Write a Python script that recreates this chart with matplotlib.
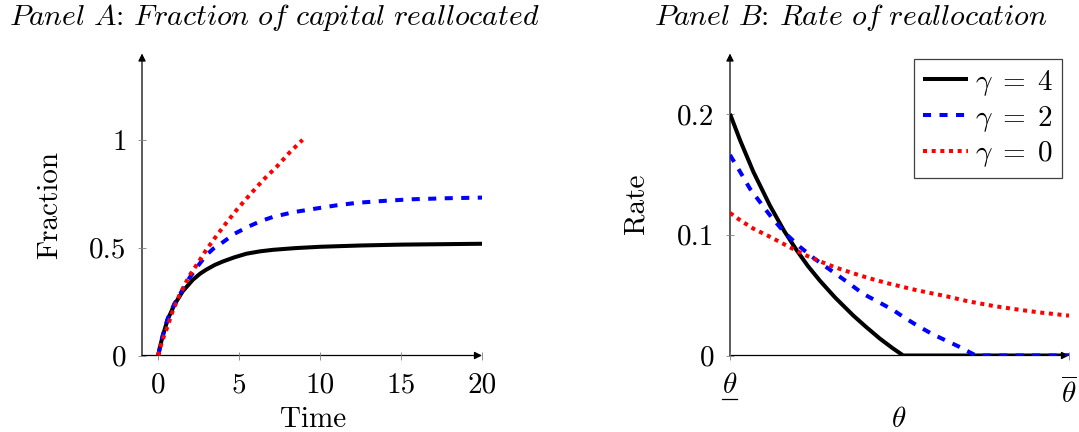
import matplotlib
matplotlib.use("Agg")
import matplotlib.pyplot as plt
from matplotlib.lines import Line2D
from matplotlib.transforms import offset_copy

plt.rcParams['font.family'] = 'cmr10'
plt.rcParams['mathtext.fontset'] = 'cm'
plt.rcParams['axes.formatter.use_mathtext'] = True
plt.rcParams['axes.unicode_minus'] = False

# ---------------- data ----------------
# Panel A: fraction of capital reallocated vs time
time_g4 = [0, 0.12, 0.27, 0.58, 1.0, 1.51, 2.14, 2.6, 2.97, 3.5, 4.0, 4.7, 5.46, 6.3,
           7.1, 8.5, 10, 12.5, 15, 17.5, 20]
frac_g4 = [0, 0.043, 0.088, 0.166, 0.235, 0.297, 0.351, 0.38, 0.398, 0.42, 0.436, 0.455,
           0.472, 0.483, 0.49, 0.498, 0.504, 0.51, 0.514, 0.516, 0.518]

time_g2 = [0, 0.12, 0.27, 0.58, 1.0, 1.51, 1.93, 2.45, 2.97, 3.4, 3.9, 4.73, 5.5, 6.3,
           7.11, 8.4, 9.81, 11, 12.3, 14, 15.6, 17.8, 20]
frac_g2 = [0, 0.042, 0.09, 0.17, 0.24, 0.305, 0.36, 0.415, 0.465, 0.495, 0.52, 0.565,
           0.595, 0.622, 0.643, 0.665, 0.682, 0.696, 0.708, 0.717, 0.724, 0.729, 0.732]

time_g0 = [0, 0.12, 0.27, 0.58, 0.89, 1.31, 1.93, 2.55, 2.97, 3.6, 4.21, 4.9, 5.66, 6.5,
           7.32, 8.1, 8.92]
frac_g0 = [0, 0.035, 0.073, 0.135, 0.205, 0.28, 0.37, 0.44, 0.49, 0.555, 0.615, 0.68,
           0.745, 0.815, 0.875, 0.94, 1.0]

# Panel B: rate of reallocation vs theta (0 = theta_low, 1 = theta_high)
theta_g4 = [0, 0.03, 0.069, 0.118, 0.16, 0.197, 0.23, 0.265, 0.31, 0.364, 0.40, 0.442,
            0.48, 0.511, 1.0]
rate_g4 = [0.2, 0.178, 0.152, 0.124, 0.103, 0.087, 0.074, 0.062, 0.048, 0.033, 0.024,
           0.014, 0.006, 0.0, 0.0]

theta_g2 = [0, 0.03, 0.059, 0.118, 0.16, 0.206, 0.25, 0.295, 0.345, 0.393, 0.44, 0.482,
            0.511, 0.551, 0.595, 0.64, 0.678, 0.725, 1.0]
rate_g2 = [0.166, 0.152, 0.138, 0.116, 0.102, 0.090, 0.080, 0.071, 0.061, 0.051, 0.044,
           0.0375, 0.032, 0.025, 0.018, 0.012, 0.007, 0.0, 0.0]

theta_g0 = [0, 0.03, 0.069, 0.12, 0.167, 0.215, 0.265, 0.31, 0.364, 0.41, 0.462, 0.551,
            0.639, 0.7, 0.777, 0.85, 0.914, 1.0]
rate_g0 = [0.118, 0.112, 0.105, 0.098, 0.091, 0.084, 0.078, 0.073, 0.068, 0.064, 0.060,
           0.054, 0.049, 0.045, 0.041, 0.038, 0.0356, 0.033]

legend_labels = [r'$\gamma\;=\;4$', r'$\gamma\;=\;2$', r'$\gamma\;=\;0$']
xticks_A = [0, 5, 10, 15, 20]
yticks_A = [0, 0.5, 1]
yticks_B = [0, 0.1, 0.2]
xticks_B = [0, 1]
xticklabels_B = [r'$\theta$', r'$\overline{\theta}$']

# ---------------- figure ----------------
W, H = 1079, 432
fig = plt.figure(figsize=(W / 100, H / 100), dpi=100)

def px(x0, y0, x1, y1):
    return [x0 / W, 1 - y1 / H, (x1 - x0) / W, (y1 - y0) / H]

axA = fig.add_axes(px(142, 53.5, 482, 355.5))
axB = fig.add_axes(px(730, 53.5, 1069, 355.5))

FS = 21
LW = 2.9
sty_black = dict(color='black', lw=LW, solid_capstyle='butt', solid_joinstyle='round')
sty_blue = dict(color='#0000ff', lw=LW, linestyle=(0, (2.0, 2.1)), dash_capstyle='butt')
sty_red = dict(color='#ff0000', lw=LW, linestyle=(0, (1.0, 1.15)), dash_capstyle='butt')

axA.plot(time_g4, frac_g4, **sty_black)
axA.plot(time_g2, frac_g2, **sty_blue)
axA.plot(time_g0, frac_g0, **sty_red)
axA.set_xlim(-1, 20)
axA.set_ylim(0, 1.4)
axA.set_xticks(xticks_A)
axA.set_xticklabels([str(v) for v in xticks_A])
axA.set_yticks(yticks_A)
axA.set_yticklabels(['0', '0.5', '1'])

lB1, = axB.plot(theta_g4, rate_g4, **sty_black)
lB2, = axB.plot(theta_g2, rate_g2, **sty_blue)
lB3, = axB.plot(theta_g0, rate_g0, **sty_red)
axB.set_xlim(0, 1)
axB.set_ylim(0, 0.25)
axB.set_xticks(xticks_B)
axB.set_xticklabels(['', ''])
axB.set_yticks(yticks_B)
axB.set_yticklabels(['0', '0.1', '0.2'])

for ax in (axA, axB):
    for s in ax.spines.values():
        s.set_visible(False)
    ax.tick_params(direction='inout', length=6, width=0.6, color='#808080',
                   labelsize=FS)
    ax.tick_params(axis='x', pad=9)
    ax.tick_params(axis='y', pad=8)
    ax.patch.set_alpha(0)
    arrow = dict(arrowstyle='-|>', lw=0.9, color='black', mutation_scale=11,
                 shrinkA=0, shrinkB=0)
    ax.annotate('', xy=(1, 0), xytext=(0, 0), xycoords='axes fraction',
                textcoords='axes fraction', arrowprops=arrow, zorder=0.5)
    ax.annotate('', xy=(0, 1), xytext=(0, 0), xycoords='axes fraction',
                textcoords='axes fraction', arrowprops=arrow, zorder=0.5)

# theta tick labels of panel B (theta_low underlined, theta_high overlined)
xtr = axB.get_xaxis_transform()
axB.text(xticks_B[0], 0, xticklabels_B[0], fontsize=FS, ha='center', va='top',
         transform=offset_copy(xtr, fig=fig, y=-17, units='dots'))
axB.text(xticks_B[1], 0, xticklabels_B[1], fontsize=FS, ha='center', va='top',
         transform=offset_copy(xtr, fig=fig, y=-22, units='dots'))
axB.add_line(Line2D([xticks_B[0] - 0.023, xticks_B[0] + 0.022], [0, 0], color='black',
                    lw=0.9, clip_on=False,
                    transform=offset_copy(xtr, fig=fig, y=-43, units='dots')))

leg = axB.legend([lB1, lB2, lB3], legend_labels, loc='upper right',
                 bbox_to_anchor=(0.979, 0.982), borderaxespad=0, fontsize=FS,
                 handlelength=1.55, handletextpad=0.25, labelspacing=0.2,
                 borderpad=0.3, fancybox=False, framealpha=1,
                 edgecolor='#404040')
leg.get_frame().set_linewidth(0.9)

# titles and axis labels
title_kw = dict(fontsize=FS + 0.5, ha='center', va='baseline')
fig.text(274 / W, 1 - 25 / H,
         r'$\mathit{Panel\ A}$: $\mathit{Fraction\ of\ capital\ reallocated}$', **title_kw)
fig.text(851 / W, 1 - 25 / H,
         r'$\mathit{Panel\ B}$: $\mathit{Rate\ of\ reallocation}$', **title_kw)
fig.text(313 / W, 1 - 427 / H, 'Time', fontsize=FS, ha='center', va='baseline')
fig.text(899 / W, 1 - 427 / H, r'$\theta$', fontsize=FS, ha='center', va='baseline')
fig.text(50 / W, 1 - 205 / H, 'Fraction', fontsize=FS, ha='center', va='center',
         rotation=90)
fig.text(636 / W, 1 - 204 / H, 'Rate', fontsize=FS, ha='center', va='center',
         rotation=90)

fig.savefig('out.png', dpi=100)
